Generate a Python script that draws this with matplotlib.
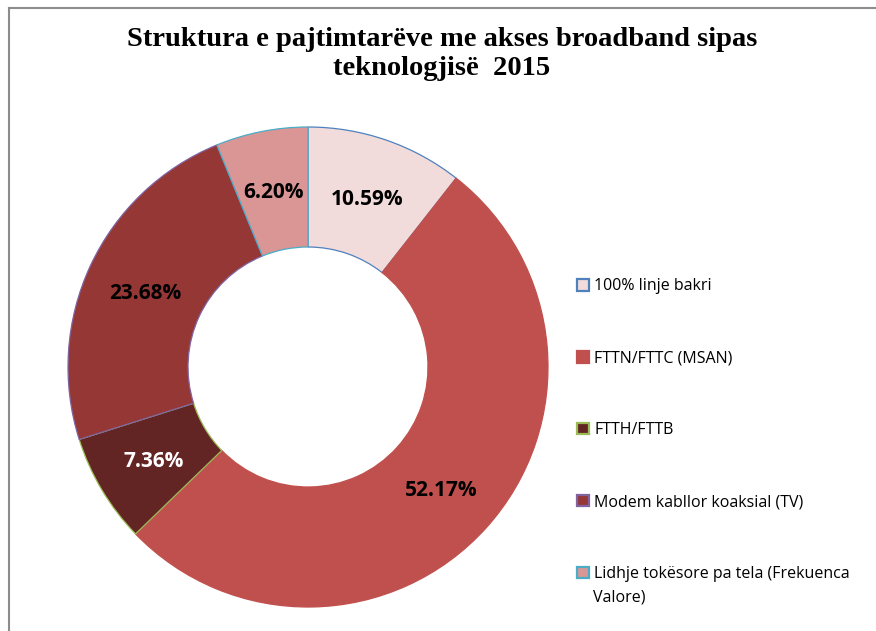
import matplotlib
matplotlib.use("Agg")
import matplotlib.pyplot as plt
from matplotlib.lines import Line2D

# Daten
kategorien = ["100% linje bakri", "FTTN/FTTC (MSAN)", "FTTH/FTTB",
              "Modem kabllor koaksial (TV)", "Lidhje tokësore pa tela (Frekuenca"]
zweite_zeile = "Valore)"
anteile = [10.59, 52.17, 7.36, 23.68, 6.20]
farben = ["#F2DCDB", "#C0504D", "#632523", "#953735", "#D99694"]
randfarben = ["#4F81BD", "#C0504D", "#9BBB59", "#8064A2", "#4BACC6"]
textfarben = ["black", "black", "white", "black", "black"]

W, H = 876, 631
fig = plt.figure(figsize=(W / 100, H / 100), dpi=100)

# Position des Rings in Pixeln
cx, cy, r = 308, 367, 240
ax = fig.add_axes([(cx - r) / W, (H - cy - r) / H, 2 * r / W, 2 * r / H])

wedges, texts, autotexts = ax.pie(
    anteile, colors=farben, startangle=90, counterclock=False,
    radius=1.0, autopct=lambda p: f"{p:.2f}%", pctdistance=0.75,
    wedgeprops=dict(width=0.5, linewidth=0.9),
    textprops=dict(fontsize=15, fontweight="bold", family="Open Sans"))
for w, ec in zip(wedges, randfarben):
    w.set_edgecolor(ec)
for t, c in zip(autotexts, textfarben):
    t.set_color(c)
    t.set_va("center_baseline")
ax.set_xlim(-1.0, 1.0)
ax.set_ylim(-1.0, 1.0)
ax.set_aspect("equal")

leg = fig.legend(wedges, kategorien, loc="upper left",
                 bbox_to_anchor=(563 / W, 1 - 264 / H),
                 frameon=False, prop=dict(family="Open Sans", size=11.5),
                 handlelength=0.75, handleheight=0.75, handletextpad=0.3,
                 labelspacing=3.5)
for h in leg.legend_handles:
    h.set_linewidth(1.6)

fig.text(593 / W, 1 - 598 / H, zweite_zeile, ha="left", va="center",
         fontsize=11.5, family="Open Sans")

fig.text(442 / W, 1 - 54 / H,
         "Struktura e pajtimtarëve me akses broadband sipas\nteknologjisë  2015",
         ha="center", va="center", fontsize=20.5, fontweight="bold",
         family="Liberation Serif", linespacing=1.25)

# Rahmen oben und links
fig.add_artist(Line2D([8.5 / W, 8.5 / W], [0, 1 - 7.5 / H], transform=fig.transFigure,
                      color="#8C8C8C", linewidth=1.5))
fig.add_artist(Line2D([8.5 / W, 1], [1 - 7.5 / H, 1 - 7.5 / H], transform=fig.transFigure,
                      color="#8C8C8C", linewidth=1.5))

fig.savefig("out.png", dpi=100)
